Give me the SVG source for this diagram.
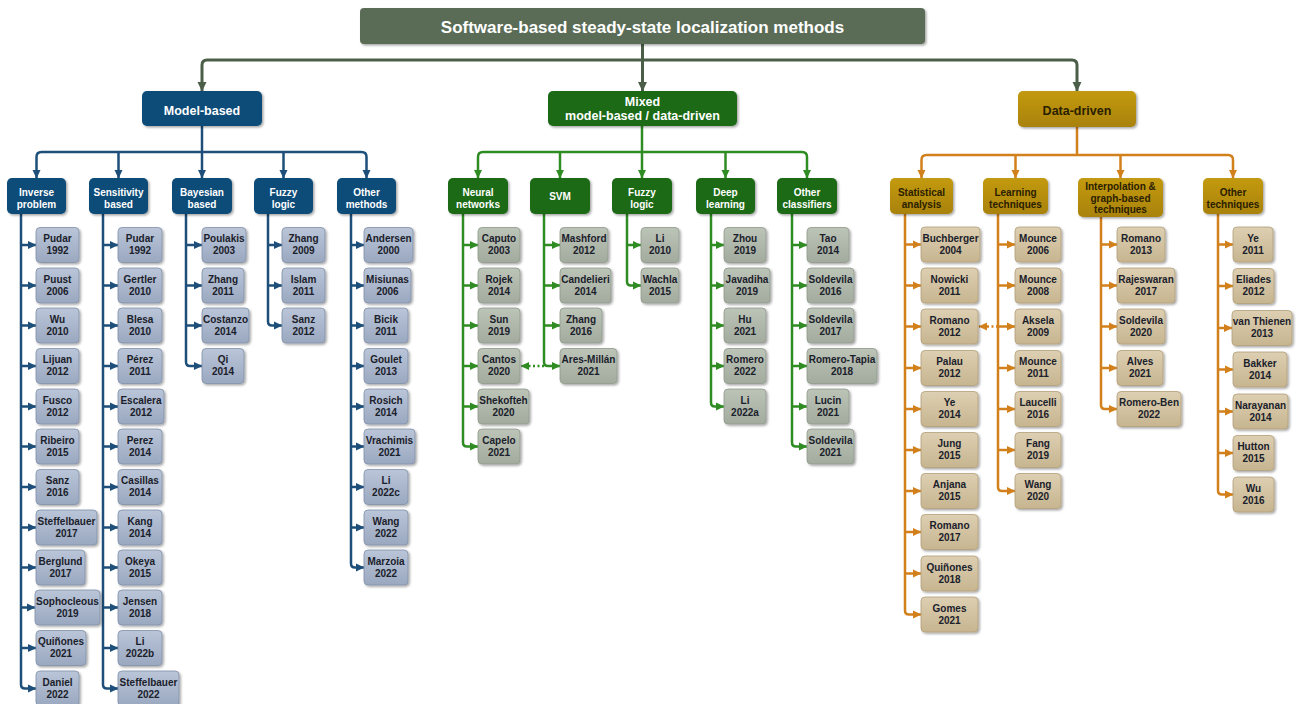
<svg xmlns="http://www.w3.org/2000/svg" width="1296" height="704" viewBox="0 0 1296 704">
<defs>
<style>
text{font-family:"Liberation Sans",Arial,sans-serif;font-weight:bold;text-anchor:middle}
.lf text{font-size:10px;fill:#1b212b}
.lf rect{stroke-width:.8;filter:url(#sh)}
.mb .lf rect{fill:url(#gB);stroke:#8290a8}
.mx .lf rect{fill:url(#gG);stroke:#8f998b}
.dd .lf rect{fill:url(#gO);stroke:#b3a07a}
.sub text{font-size:10px;fill:#fff}
.sub rect{filter:url(#sh)}
.mb .sub rect,.mb .top rect{fill:#0e4b78}
.mx .sub rect,.mx .top rect{fill:#1b6a19}
.dd .sub rect,.dd .top rect{fill:url(#gD)}
.dd .sub text,.dd .top text{fill:#2a2000}
.top text{font-size:12.5px;fill:#fff}
.top rect{filter:url(#sh)}
#connectors path{fill:none;stroke-width:2.5}
.cT path{stroke:#4b5f48}
.cB path{stroke:#1d4f7a}
.cG path{stroke:#2f8c22}
.cO path{stroke:#d2801b}
.dot{stroke-dasharray:2 2.5}
</style>
<filter id="sh" x="-10%" y="-10%" width="130%" height="140%"><feDropShadow dx="1.5" dy="1.5" stdDeviation="1" flood-color="#000" flood-opacity="0.35"/></filter>
<linearGradient id="gB" x1="0" y1="0" x2="0" y2="1"><stop offset="0" stop-color="#bac5d8"/><stop offset="1" stop-color="#9aa8c0"/></linearGradient>
<linearGradient id="gG" x1="0" y1="0" x2="0" y2="1"><stop offset="0" stop-color="#bcc4b8"/><stop offset="1" stop-color="#a2ab9e"/></linearGradient>
<linearGradient id="gO" x1="0" y1="0" x2="0" y2="1"><stop offset="0" stop-color="#ddcfb2"/><stop offset="1" stop-color="#c7b590"/></linearGradient>
<linearGradient id="gD" x1="0" y1="0" x2="0" y2="1"><stop offset="0" stop-color="#c39a12"/><stop offset="1" stop-color="#a98208"/></linearGradient>
<marker id="aT" markerUnits="userSpaceOnUse" markerWidth="10" markerHeight="10" refX="9" refY="5" orient="auto-start-reverse" viewBox="0 0 10 10"><path d="M0,0.5 L9.5,5 L0,9.5z" fill="#4b5f48"/></marker>
<marker id="aB" markerUnits="userSpaceOnUse" markerWidth="9" markerHeight="9" refX="9" refY="5" orient="auto-start-reverse" viewBox="0 0 10 10"><path d="M0,0.5 L9.5,5 L0,9.5z" fill="#1d4f7a"/></marker>
<marker id="aG" markerUnits="userSpaceOnUse" markerWidth="9" markerHeight="9" refX="9" refY="5" orient="auto-start-reverse" viewBox="0 0 10 10"><path d="M0,0.5 L9.5,5 L0,9.5z" fill="#2f8c22"/></marker>
<marker id="aO" markerUnits="userSpaceOnUse" markerWidth="9" markerHeight="9" refX="9" refY="5" orient="auto-start-reverse" viewBox="0 0 10 10"><path d="M0,0.5 L9.5,5 L0,9.5z" fill="#d2801b"/></marker>
</defs>
<rect width="1296" height="704" fill="#ffffff"/>

<g id="connectors">
<g class="cT">
<path d="M642.5,44 V91" marker-end="url(#aT)" style="stroke-width:3"/>
<path d="M202,91 V65 Q202,60 207,60 H1072 Q1077,60 1077,65 V91" marker-start="url(#aT)" marker-end="url(#aT)" style="stroke-width:3"/>
</g>
<g class="cB">
<path d="M202,126 V178" marker-end="url(#aB)"/>
<path d="M36.5,178 V157 Q36.5,152 41.5,152 H361.5 Q366.5,152 366.5,157 V178" marker-start="url(#aB)" marker-end="url(#aB)"/>
<path d="M118.5,152 V178" marker-end="url(#aB)"/>
<path d="M283.5,152 V178" marker-end="url(#aB)"/>
<path d="M21,214 V684.5 Q21,688.5 25,688.5 H36" marker-end="url(#aB)"/>
<path d="M21,245 H36" marker-end="url(#aB)"/>
<path d="M21,285.5 H36" marker-end="url(#aB)"/>
<path d="M21,325.5 H36" marker-end="url(#aB)"/>
<path d="M21,366 H36" marker-end="url(#aB)"/>
<path d="M21,406.5 H36" marker-end="url(#aB)"/>
<path d="M21,446.5 H36" marker-end="url(#aB)"/>
<path d="M21,487 H36" marker-end="url(#aB)"/>
<path d="M21,527.5 H36" marker-end="url(#aB)"/>
<path d="M21,567.5 H36" marker-end="url(#aB)"/>
<path d="M21,607.5 H35" marker-end="url(#aB)"/>
<path d="M21,648 H36" marker-end="url(#aB)"/>
<path d="M103,214 V684.5 Q103,688.5 107,688.5 H118" marker-end="url(#aB)"/>
<path d="M103,245 H118" marker-end="url(#aB)"/>
<path d="M103,285.5 H118" marker-end="url(#aB)"/>
<path d="M103,325.5 H118" marker-end="url(#aB)"/>
<path d="M103,366 H118" marker-end="url(#aB)"/>
<path d="M103,406.5 H118" marker-end="url(#aB)"/>
<path d="M103,446.5 H118" marker-end="url(#aB)"/>
<path d="M103,487 H118" marker-end="url(#aB)"/>
<path d="M103,527.5 H118" marker-end="url(#aB)"/>
<path d="M103,567.5 H118" marker-end="url(#aB)"/>
<path d="M103,607.5 H118" marker-end="url(#aB)"/>
<path d="M103,648 H118" marker-end="url(#aB)"/>
<path d="M186,214 V362 Q186,366 190,366 H202" marker-end="url(#aB)"/>
<path d="M186,245 H202" marker-end="url(#aB)"/>
<path d="M186,285.5 H202" marker-end="url(#aB)"/>
<path d="M186,325.5 H202" marker-end="url(#aB)"/>
<path d="M268,214 V321.5 Q268,325.5 272,325.5 H282" marker-end="url(#aB)"/>
<path d="M268,245 H282" marker-end="url(#aB)"/>
<path d="M268,285.5 H282" marker-end="url(#aB)"/>
<path d="M351,214 V563.5 Q351,567.5 355,567.5 H364" marker-end="url(#aB)"/>
<path d="M351,245 H364" marker-end="url(#aB)"/>
<path d="M351,285.5 H364" marker-end="url(#aB)"/>
<path d="M351,325.5 H364" marker-end="url(#aB)"/>
<path d="M351,366 H364" marker-end="url(#aB)"/>
<path d="M351,406.5 H364" marker-end="url(#aB)"/>
<path d="M351,446.5 H364" marker-end="url(#aB)"/>
<path d="M351,487 H364" marker-end="url(#aB)"/>
<path d="M351,527.5 H364" marker-end="url(#aB)"/>
</g>
<g class="cG">
<path d="M642,126 V178" marker-end="url(#aG)"/>
<path d="M478,178 V157 Q478,152 483,152 H802 Q807,152 807,157 V178" marker-start="url(#aG)" marker-end="url(#aG)"/>
<path d="M560,152 V178" marker-end="url(#aG)"/>
<path d="M725.5,152 V178" marker-end="url(#aG)"/>
<path d="M463,214 V442.5 Q463,446.5 467,446.5 H478" marker-end="url(#aG)"/>
<path d="M463,245 H478" marker-end="url(#aG)"/>
<path d="M463,285.5 H478" marker-end="url(#aG)"/>
<path d="M463,325.5 H478" marker-end="url(#aG)"/>
<path d="M463,366 H478" marker-end="url(#aG)"/>
<path d="M463,406.5 H478" marker-end="url(#aG)"/>
<path d="M544,214 V362 Q544,366 548,366 H560" marker-end="url(#aG)"/>
<path d="M544,245 H560" marker-end="url(#aG)"/>
<path d="M544,285.5 H560" marker-end="url(#aG)"/>
<path d="M544,325.5 H560" marker-end="url(#aG)"/>
<path class="dot" d="M544,366 H521" marker-end="url(#aG)"/>
<path d="M627,214 V281.5 Q627,285.5 631,285.5 H641" marker-end="url(#aG)"/>
<path d="M627,245 H641" marker-end="url(#aG)"/>
<path d="M711,214 V402.5 Q711,406.5 715,406.5 H724" marker-end="url(#aG)"/>
<path d="M711,245 H724" marker-end="url(#aG)"/>
<path d="M711,285.5 H724" marker-end="url(#aG)"/>
<path d="M711,325.5 H724" marker-end="url(#aG)"/>
<path d="M711,366 H724" marker-end="url(#aG)"/>
<path d="M792,214 V442.5 Q792,446.5 796,446.5 H807" marker-end="url(#aG)"/>
<path d="M792,245 H807" marker-end="url(#aG)"/>
<path d="M792,285.5 H807" marker-end="url(#aG)"/>
<path d="M792,325.5 H807" marker-end="url(#aG)"/>
<path d="M792,366 H807" marker-end="url(#aG)"/>
<path d="M792,406.5 H807" marker-end="url(#aG)"/>
</g>
<g class="cO">
<path d="M1077,127 V155" />
<path d="M921.5,178 V160 Q921.5,155 926.5,155 H1228 Q1233,155 1233,160 V178" marker-start="url(#aO)" marker-end="url(#aO)"/>
<path d="M1015.5,155 V178" marker-end="url(#aO)"/>
<path d="M1120.5,155 V178" marker-end="url(#aO)"/>
<path d="M905,214 V610.5 Q905,614.5 909,614.5 H921" marker-end="url(#aO)"/>
<path d="M905,244.5 H921" marker-end="url(#aO)"/>
<path d="M905,285.5 H921" marker-end="url(#aO)"/>
<path d="M905,326.5 H921" marker-end="url(#aO)"/>
<path d="M905,368 H921" marker-end="url(#aO)"/>
<path d="M905,409 H921" marker-end="url(#aO)"/>
<path d="M905,450 H921" marker-end="url(#aO)"/>
<path d="M905,491 H921" marker-end="url(#aO)"/>
<path d="M905,532 H921" marker-end="url(#aO)"/>
<path d="M905,573.5 H921" marker-end="url(#aO)"/>
<path d="M998,214 V487 Q998,491 1002,491 H1015" marker-end="url(#aO)"/>
<path d="M998,244.5 H1015" marker-end="url(#aO)"/>
<path d="M998,285.5 H1015" marker-end="url(#aO)"/>
<path d="M998,326.5 H1015" marker-end="url(#aO)"/>
<path class="dot" d="M998,326.5 H979" marker-end="url(#aO)"/>
<path d="M998,368 H1015" marker-end="url(#aO)"/>
<path d="M998,409 H1015" marker-end="url(#aO)"/>
<path d="M998,450 H1015" marker-end="url(#aO)"/>
<path d="M1101,217 V405 Q1101,409 1105,409 H1117" marker-end="url(#aO)"/>
<path d="M1101,244.5 H1117" marker-end="url(#aO)"/>
<path d="M1101,285.5 H1117" marker-end="url(#aO)"/>
<path d="M1101,326.5 H1117" marker-end="url(#aO)"/>
<path d="M1101,368 H1117" marker-end="url(#aO)"/>
<path d="M1218,214 V490.5 Q1218,494.5 1222,494.5 H1233" marker-end="url(#aO)"/>
<path d="M1218,244.5 H1233" marker-end="url(#aO)"/>
<path d="M1218,286 H1233" marker-end="url(#aO)"/>
<path d="M1218,328 H1232" marker-end="url(#aO)"/>
<path d="M1218,369.5 H1233" marker-end="url(#aO)"/>
<path d="M1218,411.5 H1233" marker-end="url(#aO)"/>
<path d="M1218,453 H1233" marker-end="url(#aO)"/>
</g>
</g>

<g id="title"><rect x="360" y="8" width="565" height="36" rx="4" fill="#5a6c56" filter="url(#sh)"/><text x="642.5" y="32.5" style="font-size:17px;fill:#fff">Software-based steady-state localization methods</text></g>

<g class="mb">
<g id="model-based" class="top"><rect x="142" y="91" width="120" height="35" rx="5"/><text x="202" y="114.5">Model-based</text></g>
<g id="inverse-problem" class="sub"><rect x="7" y="178" width="59" height="36" rx="5"/><text x="36.5" y="195.5">Inverse<tspan x="36.5" y="207.5">problem</tspan></text></g>
<g id="sensitivity-based" class="sub"><rect x="89" y="178" width="59" height="36" rx="5"/><text x="118.5" y="195.5">Sensitivity<tspan x="118.5" y="207.5">based</tspan></text></g>
<g id="bayesian-based" class="sub"><rect x="172" y="178" width="60" height="36" rx="5"/><text x="202" y="195.5">Bayesian<tspan x="202" y="207.5">based</tspan></text></g>
<g id="mb-fuzzy-logic" class="sub"><rect x="254" y="178" width="59" height="36" rx="5"/><text x="283.5" y="195.5">Fuzzy<tspan x="283.5" y="207.5">logic</tspan></text></g>
<g id="other-methods" class="sub"><rect x="337" y="178" width="59" height="36" rx="5"/><text x="366.5" y="195.5">Other<tspan x="366.5" y="207.5">methods</tspan></text></g>

<g id="ip-pudar-1992" class="lf"><rect x="36" y="227.5" width="43" height="35" rx="4"/><text x="57.5" y="242">Pudar<tspan x="57.5" y="254">1992</tspan></text></g>
<g id="ip-puust-2006" class="lf"><rect x="36" y="268" width="43" height="35" rx="4"/><text x="57.5" y="282.5">Puust<tspan x="57.5" y="294.5">2006</tspan></text></g>
<g id="ip-wu-2010" class="lf"><rect x="36" y="308" width="43" height="35" rx="4"/><text x="57.5" y="322.5">Wu<tspan x="57.5" y="334.5">2010</tspan></text></g>
<g id="ip-lijuan-2012" class="lf"><rect x="36" y="348.5" width="43" height="35" rx="4"/><text x="57.5" y="363">Lijuan<tspan x="57.5" y="375">2012</tspan></text></g>
<g id="ip-fusco-2012" class="lf"><rect x="36" y="389" width="43" height="35" rx="4"/><text x="57.5" y="403.5">Fusco<tspan x="57.5" y="415.5">2012</tspan></text></g>
<g id="ip-ribeiro-2015" class="lf"><rect x="36" y="429" width="43" height="35" rx="4"/><text x="57.5" y="443.5">Ribeiro<tspan x="57.5" y="455.5">2015</tspan></text></g>
<g id="ip-sanz-2016" class="lf"><rect x="36" y="469.5" width="43" height="35" rx="4"/><text x="57.5" y="484">Sanz<tspan x="57.5" y="496">2016</tspan></text></g>
<g id="ip-steffelbauer-2017" class="lf"><rect x="36" y="510" width="61" height="35" rx="4"/><text x="66.5" y="524.5">Steffelbauer<tspan x="66.5" y="536.5">2017</tspan></text></g>
<g id="ip-berglund-2017" class="lf"><rect x="36" y="550" width="49" height="35" rx="4"/><text x="60.5" y="564.5">Berglund<tspan x="60.5" y="576.5">2017</tspan></text></g>
<g id="ip-sophocleous-2019" class="lf"><rect x="35" y="590" width="65" height="35" rx="4"/><text x="67.5" y="604.5">Sophocleous<tspan x="67.5" y="616.5">2019</tspan></text></g>
<g id="ip-quinones-2021" class="lf"><rect x="36" y="630.5" width="50" height="35" rx="4"/><text x="61" y="645">Quiñones<tspan x="61" y="657">2021</tspan></text></g>
<g id="ip-daniel-2022" class="lf"><rect x="36" y="671" width="43" height="35" rx="4"/><text x="57.5" y="685.5">Daniel<tspan x="57.5" y="697.5">2022</tspan></text></g>

<g id="sb-pudar-1992" class="lf"><rect x="118" y="227.5" width="44" height="35" rx="4"/><text x="140" y="242">Pudar<tspan x="140" y="254">1992</tspan></text></g>
<g id="sb-gertler-2010" class="lf"><rect x="118" y="268" width="44" height="35" rx="4"/><text x="140" y="282.5">Gertler<tspan x="140" y="294.5">2010</tspan></text></g>
<g id="sb-blesa-2010" class="lf"><rect x="118" y="308" width="44" height="35" rx="4"/><text x="140" y="322.5">Blesa<tspan x="140" y="334.5">2010</tspan></text></g>
<g id="sb-perez-2011" class="lf"><rect x="118" y="348.5" width="44" height="35" rx="4"/><text x="140" y="363">Pérez<tspan x="140" y="375">2011</tspan></text></g>
<g id="sb-escalera-2012" class="lf"><rect x="118" y="389" width="46" height="35" rx="4"/><text x="141" y="403.5">Escalera<tspan x="141" y="415.5">2012</tspan></text></g>
<g id="sb-perez-2014" class="lf"><rect x="118" y="429" width="44" height="35" rx="4"/><text x="140" y="443.5">Perez<tspan x="140" y="455.5">2014</tspan></text></g>
<g id="sb-casillas-2014" class="lf"><rect x="118" y="469.5" width="44" height="35" rx="4"/><text x="140" y="484">Casillas<tspan x="140" y="496">2014</tspan></text></g>
<g id="sb-kang-2014" class="lf"><rect x="118" y="510" width="44" height="35" rx="4"/><text x="140" y="524.5">Kang<tspan x="140" y="536.5">2014</tspan></text></g>
<g id="sb-okeya-2015" class="lf"><rect x="118" y="550" width="44" height="35" rx="4"/><text x="140" y="564.5">Okeya<tspan x="140" y="576.5">2015</tspan></text></g>
<g id="sb-jensen-2018" class="lf"><rect x="118" y="590" width="44" height="35" rx="4"/><text x="140" y="604.5">Jensen<tspan x="140" y="616.5">2018</tspan></text></g>
<g id="sb-li-2022b" class="lf"><rect x="118" y="630.5" width="44" height="35" rx="4"/><text x="140" y="645">Li<tspan x="140" y="657">2022b</tspan></text></g>
<g id="sb-steffelbauer-2022" class="lf"><rect x="118" y="671" width="61" height="35" rx="4"/><text x="148.5" y="685.5">Steffelbauer<tspan x="148.5" y="697.5">2022</tspan></text></g>

<g id="bb-poulakis-2003" class="lf"><rect x="202" y="227.5" width="44" height="35" rx="4"/><text x="224" y="242">Poulakis<tspan x="224" y="254">2003</tspan></text></g>
<g id="bb-zhang-2011" class="lf"><rect x="202" y="268" width="42" height="35" rx="4"/><text x="223" y="282.5">Zhang<tspan x="223" y="294.5">2011</tspan></text></g>
<g id="bb-costanzo-2014" class="lf"><rect x="202" y="308" width="47" height="35" rx="4"/><text x="225.5" y="322.5">Costanzo<tspan x="225.5" y="334.5">2014</tspan></text></g>
<g id="bb-qi-2014" class="lf"><rect x="202" y="348.5" width="42" height="35" rx="4"/><text x="223" y="363">Qi<tspan x="223" y="375">2014</tspan></text></g>

<g id="fl-zhang-2009" class="lf"><rect x="282" y="227.5" width="43" height="35" rx="4"/><text x="303.5" y="242">Zhang<tspan x="303.5" y="254">2009</tspan></text></g>
<g id="fl-islam-2011" class="lf"><rect x="282" y="268" width="43" height="35" rx="4"/><text x="303.5" y="282.5">Islam<tspan x="303.5" y="294.5">2011</tspan></text></g>
<g id="fl-sanz-2012" class="lf"><rect x="282" y="308" width="43" height="35" rx="4"/><text x="303.5" y="322.5">Sanz<tspan x="303.5" y="334.5">2012</tspan></text></g>

<g id="om-andersen-2000" class="lf"><rect x="364" y="227.5" width="49" height="35" rx="4"/><text x="388.5" y="242">Andersen<tspan x="388.5" y="254">2000</tspan></text></g>
<g id="om-misiunas-2006" class="lf"><rect x="364" y="268" width="47" height="35" rx="4"/><text x="387.5" y="282.5">Misiunas<tspan x="387.5" y="294.5">2006</tspan></text></g>
<g id="om-bicik-2011" class="lf"><rect x="364" y="308" width="44" height="35" rx="4"/><text x="386" y="322.5">Bicik<tspan x="386" y="334.5">2011</tspan></text></g>
<g id="om-goulet-2013" class="lf"><rect x="364" y="348.5" width="44" height="35" rx="4"/><text x="386" y="363">Goulet<tspan x="386" y="375">2013</tspan></text></g>
<g id="om-rosich-2014" class="lf"><rect x="364" y="389" width="44" height="35" rx="4"/><text x="386" y="403.5">Rosich<tspan x="386" y="415.5">2014</tspan></text></g>
<g id="om-vrachimis-2021" class="lf"><rect x="364" y="429" width="51" height="35" rx="4"/><text x="389.5" y="443.5">Vrachimis<tspan x="389.5" y="455.5">2021</tspan></text></g>
<g id="om-li-2022c" class="lf"><rect x="364" y="469.5" width="44" height="35" rx="4"/><text x="386" y="484">Li<tspan x="386" y="496">2022c</tspan></text></g>
<g id="om-wang-2022" class="lf"><rect x="364" y="510" width="44" height="35" rx="4"/><text x="386" y="524.5">Wang<tspan x="386" y="536.5">2022</tspan></text></g>
<g id="om-marzoia-2022" class="lf"><rect x="364" y="550" width="44" height="35" rx="4"/><text x="386" y="564.5">Marzoia<tspan x="386" y="576.5">2022</tspan></text></g>
</g>

<g class="mx">
<g id="mixed" class="top"><rect x="548" y="91" width="189" height="35" rx="5"/><text x="642.5" y="105.5">Mixed<tspan x="642.5" y="120">model-based / data-driven</tspan></text></g>
<g id="neural-networks" class="sub"><rect x="448" y="178" width="60" height="36" rx="5"/><text x="478" y="195.5">Neural<tspan x="478" y="207.5">networks</tspan></text></g>
<g id="svm" class="sub"><rect x="530" y="178" width="60" height="36" rx="5"/><text x="560" y="200">SVM</text></g>
<g id="mx-fuzzy-logic" class="sub"><rect x="612" y="178" width="60" height="36" rx="5"/><text x="642" y="195.5">Fuzzy<tspan x="642" y="207.5">logic</tspan></text></g>
<g id="deep-learning" class="sub"><rect x="696" y="178" width="59" height="36" rx="5"/><text x="725.5" y="195.5">Deep<tspan x="725.5" y="207.5">learning</tspan></text></g>
<g id="other-classifiers" class="sub"><rect x="777" y="178" width="60" height="36" rx="5"/><text x="807" y="195.5">Other<tspan x="807" y="207.5">classifiers</tspan></text></g>

<g id="nn-caputo-2003" class="lf"><rect x="478" y="227.5" width="42" height="35" rx="4"/><text x="499" y="242">Caputo<tspan x="499" y="254">2003</tspan></text></g>
<g id="nn-rojek-2014" class="lf"><rect x="478" y="268" width="42" height="35" rx="4"/><text x="499" y="282.5">Rojek<tspan x="499" y="294.5">2014</tspan></text></g>
<g id="nn-sun-2019" class="lf"><rect x="478" y="308" width="42" height="35" rx="4"/><text x="499" y="322.5">Sun<tspan x="499" y="334.5">2019</tspan></text></g>
<g id="nn-cantos-2020" class="lf"><rect x="478" y="348.5" width="42" height="35" rx="4"/><text x="499" y="363">Cantos<tspan x="499" y="375">2020</tspan></text></g>
<g id="nn-shekofteh-2020" class="lf"><rect x="478" y="389" width="51" height="35" rx="4"/><text x="503.5" y="403.5">Shekofteh<tspan x="503.5" y="415.5">2020</tspan></text></g>
<g id="nn-capelo-2021" class="lf"><rect x="478" y="429" width="42" height="35" rx="4"/><text x="499" y="443.5">Capelo<tspan x="499" y="455.5">2021</tspan></text></g>

<g id="svm-mashford-2012" class="lf"><rect x="560" y="227.5" width="48" height="35" rx="4"/><text x="584" y="242">Mashford<tspan x="584" y="254">2012</tspan></text></g>
<g id="svm-candelieri-2014" class="lf"><rect x="560" y="268" width="51" height="35" rx="4"/><text x="585.5" y="282.5">Candelieri<tspan x="585.5" y="294.5">2014</tspan></text></g>
<g id="svm-zhang-2016" class="lf"><rect x="560" y="308" width="42" height="35" rx="4"/><text x="581" y="322.5">Zhang<tspan x="581" y="334.5">2016</tspan></text></g>
<g id="svm-ares-millan-2021" class="lf"><rect x="560" y="348.5" width="57" height="35" rx="4"/><text x="588.5" y="363">Ares-Millán<tspan x="588.5" y="375">2021</tspan></text></g>

<g id="mf-li-2010" class="lf"><rect x="641" y="227.5" width="38" height="35" rx="4"/><text x="660" y="242">Li<tspan x="660" y="254">2010</tspan></text></g>
<g id="mf-wachla-2015" class="lf"><rect x="641" y="268" width="38" height="35" rx="4"/><text x="660" y="282.5">Wachla<tspan x="660" y="294.5">2015</tspan></text></g>

<g id="dl-zhou-2019" class="lf"><rect x="724" y="227.5" width="42" height="35" rx="4"/><text x="745" y="242">Zhou<tspan x="745" y="254">2019</tspan></text></g>
<g id="dl-javadiha-2019" class="lf"><rect x="724" y="268" width="46" height="35" rx="4"/><text x="747" y="282.5">Javadiha<tspan x="747" y="294.5">2019</tspan></text></g>
<g id="dl-hu-2021" class="lf"><rect x="724" y="308" width="42" height="35" rx="4"/><text x="745" y="322.5">Hu<tspan x="745" y="334.5">2021</tspan></text></g>
<g id="dl-romero-2022" class="lf"><rect x="724" y="348.5" width="42" height="35" rx="4"/><text x="745" y="363">Romero<tspan x="745" y="375">2022</tspan></text></g>
<g id="dl-li-2022a" class="lf"><rect x="724" y="389" width="42" height="35" rx="4"/><text x="745" y="403.5">Li<tspan x="745" y="415.5">2022a</tspan></text></g>

<g id="oc-tao-2014" class="lf"><rect x="807" y="227.5" width="42" height="35" rx="4"/><text x="828" y="242">Tao<tspan x="828" y="254">2014</tspan></text></g>
<g id="oc-soldevila-2016" class="lf"><rect x="807" y="268" width="47" height="35" rx="4"/><text x="830.5" y="282.5">Soldevila<tspan x="830.5" y="294.5">2016</tspan></text></g>
<g id="oc-soldevila-2017" class="lf"><rect x="807" y="308" width="47" height="35" rx="4"/><text x="830.5" y="322.5">Soldevila<tspan x="830.5" y="334.5">2017</tspan></text></g>
<g id="oc-romero-tapia-2018" class="lf"><rect x="807" y="348.5" width="70" height="35" rx="4"/><text x="842" y="363">Romero-Tapia<tspan x="842" y="375">2018</tspan></text></g>
<g id="oc-lucin-2021" class="lf"><rect x="807" y="389" width="42" height="35" rx="4"/><text x="828" y="403.5">Lucin<tspan x="828" y="415.5">2021</tspan></text></g>
<g id="oc-soldevila-2021" class="lf"><rect x="807" y="429" width="47" height="35" rx="4"/><text x="830.5" y="443.5">Soldevila<tspan x="830.5" y="455.5">2021</tspan></text></g>
</g>

<g class="dd">
<g id="data-driven" class="top"><rect x="1018" y="91" width="118" height="36" rx="5"/><text x="1077" y="114.5">Data-driven</text></g>
<g id="statistical-analysis" class="sub"><rect x="890" y="178" width="63" height="36" rx="5"/><text x="921.5" y="195.5">Statistical<tspan x="921.5" y="207.5">analysis</tspan></text></g>
<g id="learning-techniques" class="sub"><rect x="983" y="178" width="65" height="36" rx="5"/><text x="1015.5" y="195.5">Learning<tspan x="1015.5" y="207.5">techniques</tspan></text></g>
<g id="interpolation" class="sub"><rect x="1078" y="178" width="85" height="39" rx="5"/><text x="1120.5" y="190">Interpolation &amp;<tspan x="1120.5" y="201.5">graph-based</tspan><tspan x="1120.5" y="213">techniques</tspan></text></g>
<g id="other-techniques" class="sub"><rect x="1203" y="178" width="60" height="36" rx="5"/><text x="1233" y="195.5">Other<tspan x="1233" y="207.5">techniques</tspan></text></g>

<g id="sa-buchberger-2004" class="lf"><rect x="921" y="227" width="59" height="35" rx="4"/><text x="950.5" y="241.5">Buchberger<tspan x="950.5" y="253.5">2004</tspan></text></g>
<g id="sa-nowicki-2011" class="lf"><rect x="921" y="268" width="57" height="35" rx="4"/><text x="949.5" y="282.5">Nowicki<tspan x="949.5" y="294.5">2011</tspan></text></g>
<g id="sa-romano-2012" class="lf"><rect x="921" y="309" width="57" height="35" rx="4"/><text x="949.5" y="323.5">Romano<tspan x="949.5" y="335.5">2012</tspan></text></g>
<g id="sa-palau-2012" class="lf"><rect x="921" y="350.5" width="57" height="35" rx="4"/><text x="949.5" y="365">Palau<tspan x="949.5" y="377">2012</tspan></text></g>
<g id="sa-ye-2014" class="lf"><rect x="921" y="391.5" width="57" height="35" rx="4"/><text x="949.5" y="406">Ye<tspan x="949.5" y="418">2014</tspan></text></g>
<g id="sa-jung-2015" class="lf"><rect x="921" y="432.5" width="57" height="35" rx="4"/><text x="949.5" y="447">Jung<tspan x="949.5" y="459">2015</tspan></text></g>
<g id="sa-anjana-2015" class="lf"><rect x="921" y="473.5" width="57" height="35" rx="4"/><text x="949.5" y="488">Anjana<tspan x="949.5" y="500">2015</tspan></text></g>
<g id="sa-romano-2017" class="lf"><rect x="921" y="514.5" width="57" height="35" rx="4"/><text x="949.5" y="529">Romano<tspan x="949.5" y="541">2017</tspan></text></g>
<g id="sa-quinones-2018" class="lf"><rect x="921" y="556" width="57" height="35" rx="4"/><text x="949.5" y="570.5">Quiñones<tspan x="949.5" y="582.5">2018</tspan></text></g>
<g id="sa-gomes-2021" class="lf"><rect x="921" y="597" width="57" height="35" rx="4"/><text x="949.5" y="611.5">Gomes<tspan x="949.5" y="623.5">2021</tspan></text></g>

<g id="lt-mounce-2006" class="lf"><rect x="1015" y="227" width="46" height="35" rx="4"/><text x="1038" y="241.5">Mounce<tspan x="1038" y="253.5">2006</tspan></text></g>
<g id="lt-mounce-2008" class="lf"><rect x="1015" y="268" width="46" height="35" rx="4"/><text x="1038" y="282.5">Mounce<tspan x="1038" y="294.5">2008</tspan></text></g>
<g id="lt-aksela-2009" class="lf"><rect x="1015" y="309" width="46" height="35" rx="4"/><text x="1038" y="323.5">Aksela<tspan x="1038" y="335.5">2009</tspan></text></g>
<g id="lt-mounce-2011" class="lf"><rect x="1015" y="350.5" width="46" height="35" rx="4"/><text x="1038" y="365">Mounce<tspan x="1038" y="377">2011</tspan></text></g>
<g id="lt-laucelli-2016" class="lf"><rect x="1015" y="391.5" width="46" height="35" rx="4"/><text x="1038" y="406">Laucelli<tspan x="1038" y="418">2016</tspan></text></g>
<g id="lt-fang-2019" class="lf"><rect x="1015" y="432.5" width="46" height="35" rx="4"/><text x="1038" y="447">Fang<tspan x="1038" y="459">2019</tspan></text></g>
<g id="lt-wang-2020" class="lf"><rect x="1015" y="473.5" width="46" height="35" rx="4"/><text x="1038" y="488">Wang<tspan x="1038" y="500">2020</tspan></text></g>

<g id="ig-romano-2013" class="lf"><rect x="1117" y="227" width="48" height="35" rx="4"/><text x="1141" y="241.5">Romano<tspan x="1141" y="253.5">2013</tspan></text></g>
<g id="ig-rajeswaran-2017" class="lf"><rect x="1117" y="268" width="58" height="35" rx="4"/><text x="1146" y="282.5">Rajeswaran<tspan x="1146" y="294.5">2017</tspan></text></g>
<g id="ig-soldevila-2020" class="lf"><rect x="1117" y="309" width="48" height="35" rx="4"/><text x="1141" y="323.5">Soldevila<tspan x="1141" y="335.5">2020</tspan></text></g>
<g id="ig-alves-2021" class="lf"><rect x="1117" y="350.5" width="46" height="35" rx="4"/><text x="1140" y="365">Alves<tspan x="1140" y="377">2021</tspan></text></g>
<g id="ig-romero-ben-2022" class="lf"><rect x="1117" y="391.5" width="64" height="35" rx="4"/><text x="1149" y="406">Romero-Ben<tspan x="1149" y="418">2022</tspan></text></g>

<g id="ot-ye-2011" class="lf"><rect x="1233" y="227" width="40" height="35" rx="4"/><text x="1253" y="241.5">Ye<tspan x="1253" y="253.5">2011</tspan></text></g>
<g id="ot-eliades-2012" class="lf"><rect x="1233" y="268.5" width="41" height="35" rx="4"/><text x="1253.5" y="283">Eliades<tspan x="1253.5" y="295">2012</tspan></text></g>
<g id="ot-van-thienen-2013" class="lf"><rect x="1232" y="310.5" width="60" height="35" rx="4"/><text x="1262" y="325">van Thienen<tspan x="1262" y="337">2013</tspan></text></g>
<g id="ot-bakker-2014" class="lf"><rect x="1233" y="352" width="54" height="35" rx="4"/><text x="1260" y="366.5">Bakker<tspan x="1260" y="378.5">2014</tspan></text></g>
<g id="ot-narayanan-2014" class="lf"><rect x="1233" y="394" width="55" height="35" rx="4"/><text x="1260.5" y="408.5">Narayanan<tspan x="1260.5" y="420.5">2014</tspan></text></g>
<g id="ot-hutton-2015" class="lf"><rect x="1233" y="435.5" width="41" height="35" rx="4"/><text x="1253.5" y="450">Hutton<tspan x="1253.5" y="462">2015</tspan></text></g>
<g id="ot-wu-2016" class="lf"><rect x="1233" y="477" width="41" height="35" rx="4"/><text x="1253.5" y="491.5">Wu<tspan x="1253.5" y="503.5">2016</tspan></text></g>
</g>
</svg>
